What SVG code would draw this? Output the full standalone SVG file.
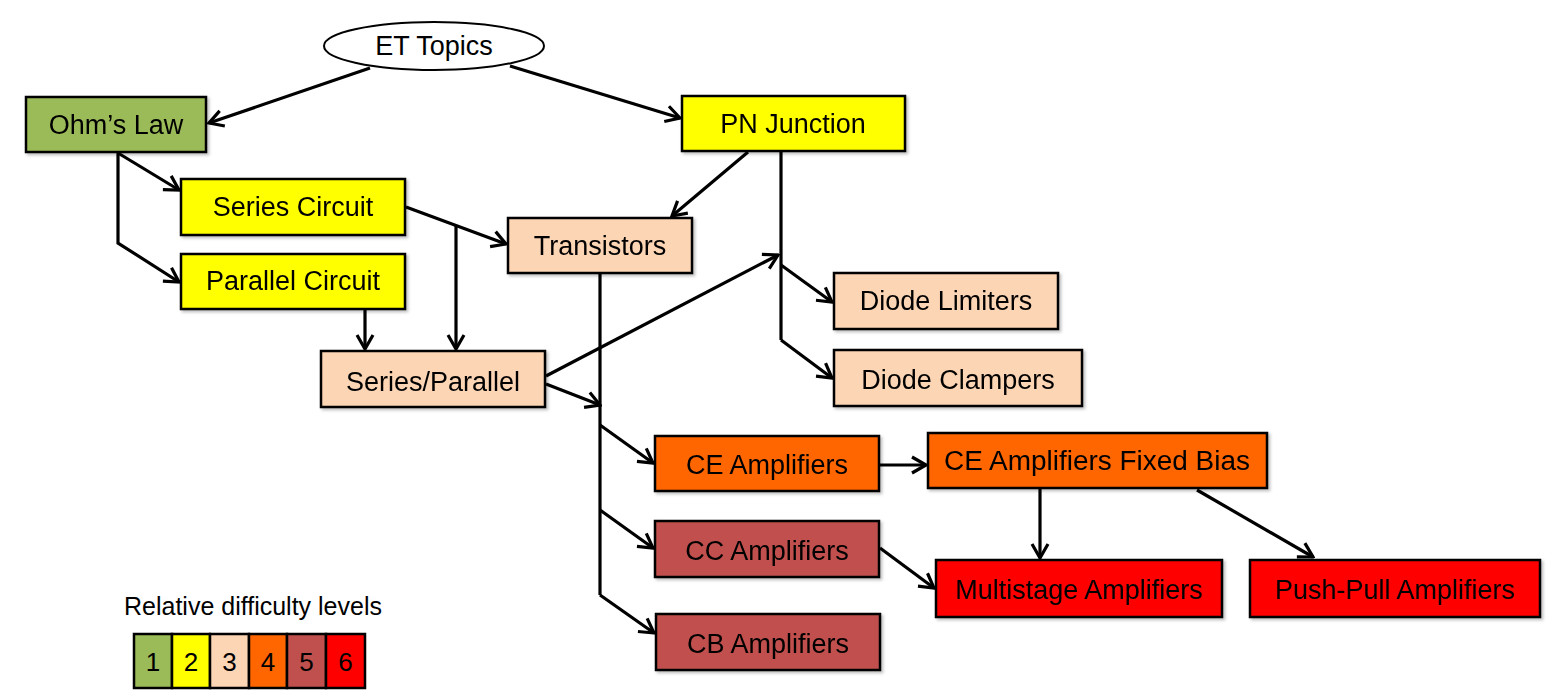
<svg xmlns="http://www.w3.org/2000/svg" width="1553" height="694" viewBox="0 0 1553 694">
<style>
.box{stroke:#000;stroke-width:2.5}
.lbl{font-family:"Liberation Sans",Arial,sans-serif;font-size:27px;fill:#000;text-anchor:middle;dominant-baseline:central}
.num{font-family:"Liberation Sans",Arial,sans-serif;font-size:26px;fill:#000;text-anchor:middle;dominant-baseline:central}
.c{fill:none;stroke:#000;stroke-width:3.2;stroke-linejoin:miter}
.a{marker-end:url(#arr)}
.l1{fill:#9BBB59}.l2{fill:#FFFF00}.l3{fill:#FCD5B5}.l4{fill:#FF6600}.l5{fill:#C0504D}.l6{fill:#FF0000}
</style>
<defs>
<marker id="arr" viewBox="0 0 18 20" refX="16" refY="10" markerWidth="18" markerHeight="20" markerUnits="userSpaceOnUse" orient="auto">
<path d="M2,2 L16,10 L2,18" fill="none" stroke="#000" stroke-width="3.2"/>
</marker>
<filter id="sh" x="-5%" y="-10%" width="115%" height="130%">
<feDropShadow dx="2" dy="2" stdDeviation="1.5" flood-color="#000" flood-opacity="0.25"/>
</filter>
</defs>
<rect width="1553" height="694" fill="#fff"/>

<g id="connectors">
<path class="c a" d="M370,68 L209,123"/>
<path class="c a" d="M510,66 L680,118"/>
<path class="c a" d="M118,153 L179,190"/>
<path class="c a" d="M118,153 L118,243 L179,282"/>
<path class="c a" d="M406,207 L506,244"/>
<path class="c a" d="M456,226 L456,349"/>
<path class="c a" d="M365,310 L365,349"/>
<path class="c a" d="M748,152 L672,216"/>
<path class="c" d="M781,152 L781,340"/>
<path class="c a" d="M781,265 L832,302"/>
<path class="c a" d="M781,340 L832,378"/>
<path class="c a" d="M546,376 L778,255"/>
<path class="c a" d="M546,384 L600,405"/>
<path class="c" d="M600,274 L600,595"/>
<path class="c a" d="M600,425 L653,463"/>
<path class="c a" d="M600,510 L653,548"/>
<path class="c a" d="M600,595 L654,633"/>
<path class="c a" d="M880,465 L926,465"/>
<path class="c a" d="M1040,489 L1040,558"/>
<path class="c a" d="M1197,490 L1313,557"/>
<path class="c a" d="M880,548 L934,588"/>
</g>

<g id="et-topics">
<ellipse cx="434" cy="46" rx="110" ry="24" fill="#fff" stroke="#000" stroke-width="2"/>
<text class="lbl" x="434" y="46">ET Topics</text>
</g>
<g id="ohms-law" filter="url(#sh)">
<rect class="box l1" x="26" y="97" width="180" height="55"/>
<text class="lbl" x="116" y="125">Ohm’s Law</text>
</g>
<g id="pn-junction" filter="url(#sh)">
<rect class="box l2" x="682" y="96" width="223" height="55"/>
<text class="lbl" x="793" y="124">PN Junction</text>
</g>
<g id="series-circuit" filter="url(#sh)">
<rect class="box l2" x="181" y="179" width="224" height="56"/>
<text class="lbl" x="293" y="207">Series Circuit</text>
</g>
<g id="parallel-circuit" filter="url(#sh)">
<rect class="box l2" x="181" y="254" width="224" height="55"/>
<text class="lbl" x="293" y="281">Parallel Circuit</text>
</g>
<g id="transistors" filter="url(#sh)">
<rect class="box l3" x="508" y="218" width="184" height="55"/>
<text class="lbl" x="600" y="246">Transistors</text>
</g>
<g id="series-parallel" filter="url(#sh)">
<rect class="box l3" x="321" y="351" width="224" height="56"/>
<text class="lbl" x="433" y="382">Series/Parallel</text>
</g>
<g id="diode-limiters" filter="url(#sh)">
<rect class="box l3" x="834" y="273" width="224" height="56"/>
<text class="lbl" x="946" y="301">Diode Limiters</text>
</g>
<g id="diode-clampers" filter="url(#sh)">
<rect class="box l3" x="834" y="350" width="248" height="56"/>
<text class="lbl" x="958" y="380">Diode Clampers</text>
</g>
<g id="ce-amplifiers" filter="url(#sh)">
<rect class="box l4" x="655" y="436" width="224" height="55"/>
<text class="lbl" x="767" y="465">CE Amplifiers</text>
</g>
<g id="ce-fixed-bias" filter="url(#sh)">
<rect class="box l4" x="928" y="433" width="339" height="55"/>
<text class="lbl" x="1097" y="461" textLength="306" lengthAdjust="spacingAndGlyphs">CE Amplifiers Fixed Bias</text>
</g>
<g id="cc-amplifiers" filter="url(#sh)">
<rect class="box l5" x="655" y="521" width="224" height="56"/>
<text class="lbl" x="767" y="551">CC Amplifiers</text>
</g>
<g id="cb-amplifiers" filter="url(#sh)">
<rect class="box l5" x="656" y="614" width="224" height="56"/>
<text class="lbl" x="768" y="644">CB Amplifiers</text>
</g>
<g id="multistage" filter="url(#sh)">
<rect class="box l6" x="936" y="560" width="286" height="57"/>
<text class="lbl" x="1079" y="590">Multistage Amplifiers</text>
</g>
<g id="push-pull" filter="url(#sh)">
<rect class="box l6" x="1250" y="560" width="290" height="57"/>
<text class="lbl" x="1395" y="590">Push-Pull Amplifiers</text>
</g>

<g id="legend">
<text x="124" y="615" font-family="Liberation Sans,Arial,sans-serif" font-size="25" fill="#000">Relative difficulty levels</text>
<rect class="box l1" x="134" y="634" width="38" height="54"/>
<rect class="box l2" x="172" y="634" width="38" height="54"/>
<rect class="box l3" x="210" y="634" width="39" height="54"/>
<rect class="box l4" x="249" y="634" width="38" height="54"/>
<rect class="box l5" x="287" y="634" width="39" height="54"/>
<rect class="box l6" x="326" y="634" width="39" height="54"/>
<text class="num" x="153" y="662">1</text>
<text class="num" x="191" y="662">2</text>
<text class="num" x="229.5" y="662">3</text>
<text class="num" x="268" y="662">4</text>
<text class="num" x="306.5" y="662">5</text>
<text class="num" x="345.5" y="662">6</text>
</g>
</svg>
